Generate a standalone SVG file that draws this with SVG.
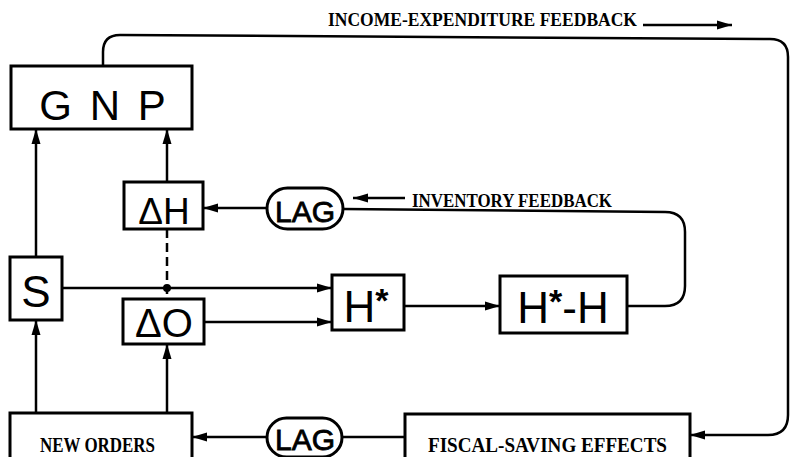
<svg xmlns="http://www.w3.org/2000/svg" width="793" height="457" viewBox="0 0 793 457">
<defs>
<marker id="ah" markerUnits="userSpaceOnUse" markerWidth="16" markerHeight="10" refX="15" refY="5" orient="auto">
<path d="M0,0.5 L15,5 L0,9.5 z" fill="#000"/>
</marker>
<style>
.box{fill:#fff;stroke:#000;stroke-width:3}
.ln{fill:none;stroke:#000;stroke-width:2.5}
.lbl{font-family:"Liberation Sans",Arial,sans-serif;fill:#000;text-anchor:middle}
.lag{font-family:"Liberation Sans",Arial,sans-serif;fill:#000;text-anchor:middle;stroke:#000;stroke-width:0.8}
.tw{font-family:"Liberation Serif","Times New Roman",serif;font-weight:bold;fill:#000}
</style>
</defs>
<rect width="793" height="457" fill="#fff"/>
<g id="connectors">
<path class="ln" d="M103,66 V52 Q103,35 120,35 L770,39 Q788,39 788,57 V415 Q788,435 768,435 H690" marker-end="url(#ah)"/>
<path class="ln" d="M643,25 H732" marker-end="url(#ah)"/>
<path class="ln" d="M405,198 H353" marker-end="url(#ah)"/>
<path class="ln" d="M627,306 H665 Q685,306 685,286 V232 Q685,212 665,212 L343,209"/>
<path class="ln" d="M267,208 H203" marker-end="url(#ah)"/>
<path class="ln" d="M36,257 V129" marker-end="url(#ah)"/>
<path class="ln" d="M167,182 V129" marker-end="url(#ah)"/>
<path class="ln" d="M36,413 V320" marker-end="url(#ah)"/>
<path class="ln" d="M167,413 V344" marker-end="url(#ah)"/>
<path class="ln" d="M62,288 H332" marker-end="url(#ah)"/>
<path class="ln" d="M204,322 H332" marker-end="url(#ah)"/>
<path class="ln" d="M404,306 H500" marker-end="url(#ah)"/>
<path class="ln" d="M167,229 V299" stroke-dasharray="9,5"/>
<circle cx="167" cy="288" r="4" fill="#000"/>
<path class="ln" d="M405,437 H342"/>
<path class="ln" d="M267,437 H192" marker-end="url(#ah)"/>
</g>
<g id="gnp">
<rect class="box" x="11" y="66" width="181" height="63"/>
<text class="lbl" x="104" y="120" font-size="42" letter-spacing="3">G N P</text>
</g>
<g id="s">
<rect class="box" x="10" y="257" width="52" height="63"/>
<text class="lbl" x="36" y="307" font-size="44">S</text>
</g>
<g id="deltaH">
<rect class="box" x="124" y="182" width="79" height="47"/>
<text class="lbl" x="164" y="224" font-size="37">ΔH</text>
</g>
<g id="lagTop">
<rect class="box" x="267" y="188" width="76" height="41" rx="20.5"/>
<text class="lag" x="305" y="222" font-size="30">LAG</text>
</g>
<g id="deltaO">
<rect class="box" x="123" y="299" width="81" height="45"/>
<text class="lbl" x="164" y="337" font-size="40">ΔO</text>
</g>
<g id="hstar">
<rect class="box" x="332" y="275" width="72" height="55"/>
<text class="lbl" x="366" y="322" font-size="44">H<tspan font-size="34" font-weight="bold" dy="-10">*</tspan></text>
</g>
<g id="hstarminush">
<rect class="box" x="500" y="276" width="127" height="57"/>
<text class="lbl" x="563" y="323" font-size="44">H<tspan font-size="34" font-weight="bold" dy="-10">*</tspan><tspan dy="10">-H</tspan></text>
</g>
<g id="newOrders">
<rect class="box" x="10" y="413" width="182" height="50"/>
<text class="tw" x="40" y="452" font-size="20" textLength="115" lengthAdjust="spacingAndGlyphs">NEW ORDERS</text>
</g>
<g id="lagBottom">
<rect class="box" x="267" y="418" width="75" height="39" rx="19.5"/>
<text class="lag" x="305" y="450" font-size="30">LAG</text>
</g>
<g id="fiscal">
<rect class="box" x="405" y="414" width="285" height="50"/>
<text class="tw" x="428" y="452" font-size="20" textLength="239" lengthAdjust="spacingAndGlyphs">FISCAL-SAVING EFFECTS</text>
</g>
<g id="labels">
<text class="tw" x="328" y="26" font-size="19" textLength="309" lengthAdjust="spacingAndGlyphs">INCOME-EXPENDITURE FEEDBACK</text>
<text class="tw" x="412" y="207" font-size="19" textLength="200" lengthAdjust="spacingAndGlyphs">INVENTORY FEEDBACK</text>
</g>
</svg>
